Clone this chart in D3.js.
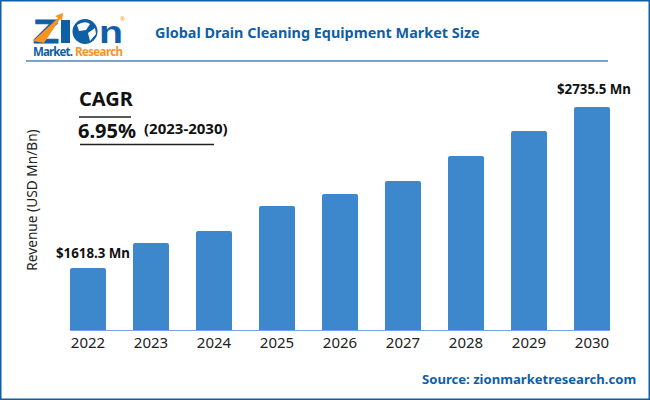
<!DOCTYPE html>
<html><head><meta charset="utf-8">
<script src="https://cdn.jsdelivr.net/npm/d3@7"></script>
<style>html,body{margin:0;padding:0;background:#fff}svg{display:block}text{font-family:"Noto Sans",sans-serif}</style>
</head><body><div id="c"></div>
<script>
const years=["2022","2023","2024","2025","2026","2027","2028","2029","2030"];
const values=[1618.3,1792,1875,2049,2132,2222,2396,2569,2735.5];
const W=650,H=400,blue="#0f5fa6",bar="#3d87cc";
const svg=d3.select("#c").append("svg").attr("width",W).attr("height",H);
svg.append("rect").attr("x",.75).attr("y",.75).attr("width",W-1.5).attr("height",H-1.5).attr("fill","#fff").attr("stroke",blue).attr("stroke-width",1.5);
const x=d3.scaleBand().domain(years).range([58,622]).paddingInner(.4286).paddingOuter(.19);
const y=d3.scaleLinear().domain([1188,2735.5]).range([330,107]);
svg.append("line").attr("x1",26).attr("x2",608).attr("y1",61).attr("y2",61).attr("stroke","#7ba3cf").attr("stroke-width",2);
svg.append("text").attr("x",155).attr("y",38).attr("font-size",14.4).attr("font-weight",700).attr("fill",blue).text("Global Drain Cleaning Equipment Market Size");
// logo
const logo=svg.append("g");
logo.append("text").attr("x",33).attr("y",43).attr("font-size",33).attr("font-weight",700).attr("fill",blue).attr("stroke",blue).attr("stroke-width",1).style("font-family","'Liberation Sans'").attr("textLength",26).attr("lengthAdjust","spacingAndGlyphs").text("Z");
logo.append("path").attr("d","M33 41 L58 18 L55 16 L63 13 L62 21 L60 19 L44 43 Z").attr("fill","#f7941d");
logo.append("rect").attr("x",61).attr("y",20).attr("width",9).attr("height",23).attr("fill",blue);
logo.append("circle").attr("cx",85).attr("cy",31.5).attr("r",12.5).attr("fill",blue);
logo.append("path").attr("d","M77 25 Q85 20 90 24 L86 30 L79 31 Z M88 33 L95 28 L96 34 L90 41 Z").attr("fill","#fff");
logo.append("text").attr("x",99).attr("y",43).attr("font-size",32).attr("font-weight",700).attr("fill",blue).style("font-family","'Liberation Sans'").attr("textLength",24).attr("lengthAdjust","spacingAndGlyphs").text("n");
logo.append("text").attr("x",33).attr("y",56).attr("font-size",11.5).attr("font-weight",700).attr("fill",blue).attr("textLength",40).text("Market.");
logo.append("text").attr("x",75).attr("y",56).attr("font-size",11.5).attr("font-weight",700).attr("fill","#f7941d").attr("textLength",48).text("Research");
logo.append("text").attr("x",120).attr("y",21).attr("font-size",6).attr("fill","#f7941d").text("®");
// CAGR
svg.append("text").attr("x",79).attr("y",106).attr("font-size",20).attr("font-weight",700).attr("fill","#111").text("CAGR");
svg.append("line").attr("x1",79).attr("x2",131).attr("y1",117).attr("y2",117).attr("stroke","#222").attr("stroke-width",1.6);
svg.append("text").attr("x",78).attr("y",138).attr("font-size",20).attr("font-weight",700).attr("fill","#111").text("6.95%");
svg.append("text").attr("x",144).attr("y",134).attr("font-size",15).attr("font-weight",700).attr("fill","#111").text("(2023-2030)");
svg.append("line").attr("x1",80).attr("x2",214).attr("y1",144.5).attr("y2",144.5).attr("stroke","#222").attr("stroke-width",1.6);
// bars
svg.selectAll("path.b").data(years).join("path").attr("class","b").attr("fill",bar).attr("d",(d,i)=>{
 const l=x(d),r=l+x.bandwidth(),t=y(values[i]),b=y.range()[0],c=2;
 return `M${l} ${b}V${t+c}Q${l} ${t} ${l+c} ${t}H${r-c}Q${r} ${t} ${r} ${t+c}V${b}Z`;});
// axis
const ax=svg.append("g").attr("transform","translate(0,330)").call(d3.axisBottom(x).tickSize(0).tickPadding(7));
ax.select(".domain").remove();
svg.append("line").attr("x1",x(years[0])).attr("x2",x(years[8])+x.bandwidth()).attr("y1",330.5).attr("y2",330.5).attr("stroke","#7b9ff0").attr("stroke-width",1.2);
ax.selectAll("text").attr("font-size",15).attr("fill","#222").style("font-family","'Noto Sans'");
svg.append("text").attr("transform","translate(37,200) rotate(-90)").attr("text-anchor","middle").attr("font-size",13.7).attr("fill","#222").text("Revenue (USD Mn/Bn)");
svg.append("text").attr("x",56).attr("y",258).attr("font-size",13.3).attr("font-weight",700).attr("fill","#111").text("$1618.3 Mn");
svg.append("text").attr("x",557).attr("y",94).attr("font-size",13.3).attr("font-weight",700).attr("fill","#111").text("$2735.5 Mn");
svg.append("text").attr("x",422).attr("y",384).attr("font-size",13.1).attr("font-weight",700).attr("fill",blue).text("Source: zionmarketresearch.com");
</script></body></html>
